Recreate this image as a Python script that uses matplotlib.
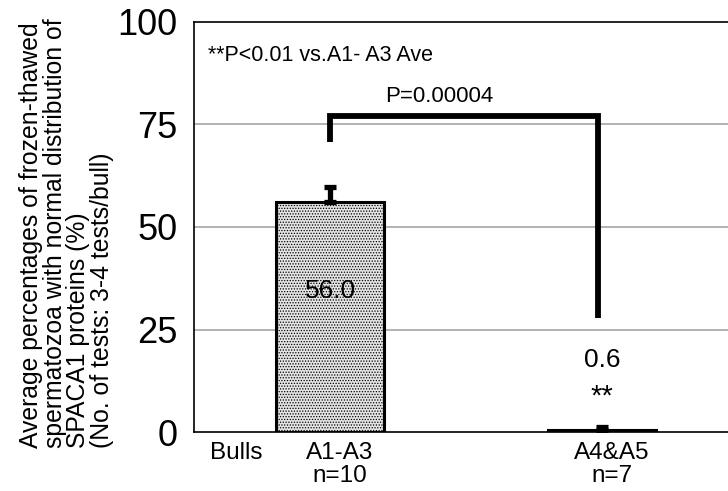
import matplotlib
matplotlib.use("Agg")
import matplotlib.pyplot as plt

plt.rcParams['font.family'] = ['Liberation Sans', 'DejaVu Sans']
plt.rcParams['hatch.color'] = '#6e6e6e'
plt.rcParams['hatch.linewidth'] = 0.6

groups = ["A1-A3\nn=10", "A4&A5\nn=7"]
means = [56.0, 0.6]
errs = [3.8, 0.6]
value_labels = ["56.0", "0.6"]
yticks = [0, 25, 50, 75, 100]
p_text = "P=0.00004"
note_text = "**P<0.01 vs.A1- A3 Ave"
bracket_y = 77
bracket_left_bottom = 70.7
bracket_right_bottom = 27.8

fig = plt.figure(figsize=(7.28, 4.91), dpi=100)
ax = fig.add_axes([194/728, 59/491, 1 - 194/728, 410/491])

x = [1, 2]
ax.bar(x, means, width=0.40, facecolor='#e4e4e4', edgecolor='black',
       linewidth=2.2, hatch='......', zorder=3)
ax.errorbar(x, means, yerr=[[0, 0], errs], fmt='none', ecolor='black',
            elinewidth=3.8, capsize=4.5, capthick=3.8, zorder=4)

# significance bracket
ax.plot([x[0], x[0], 1.985, 1.985],
        [bracket_left_bottom, bracket_y, bracket_y, bracket_right_bottom],
        color='black', lw=4.2, solid_joinstyle='miter', solid_capstyle='butt', zorder=5)
ax.text(1.40, 81.8, p_text, ha='center', va='center', fontsize=16)
ax.text(0.551, 91.8, note_text, ha='left', va='center', fontsize=15.5)

ax.text(x[0], 34.5, value_labels[0], ha='center', va='center', fontsize=19, zorder=6)
ax.text(x[1], 17.6, value_labels[1], ha='center', va='center', fontsize=19)
ax.text(x[1], 8.6, "**", ha='center', va='center', fontsize=21)

ax.set_xlim(0.5, 2.463)
ax.set_ylim(0, 100)
ax.set_yticks(yticks)
ax.set_yticklabels([str(t) for t in yticks], fontsize=26)
label_offset = 0.035
ax.set_xticks([0.654] + [xi + label_offset for xi in x])
ax.set_xticklabels(["Bulls"] + groups, fontsize=17.5, linespacing=1.08)
ax.tick_params(axis='both', length=0)
ax.tick_params(axis='x', pad=7)
ax.tick_params(axis='y', pad=12)

for yv in [25, 50, 75]:
    ax.axhline(yv, color='#a6a6a6', lw=1.2, zorder=1)

ax.spines['right'].set_visible(False)
for s in ['left', 'top', 'bottom']:
    ax.spines[s].set_linewidth(1.2)
    ax.spines[s].set_color('black')

fig.text(19/728, (491 - 448)/491,
         "Average percentages of frozen-thawed\nspermatozoa with normal distribution of\nSPACA1 proteins (%)\n(No. of tests: 3-4 tests/bull)",
         rotation=90, fontsize=17.8, linespacing=0.98, ha='left', va='top',
         multialignment='left', rotation_mode='anchor')

fig.savefig("out.png", dpi=100)
